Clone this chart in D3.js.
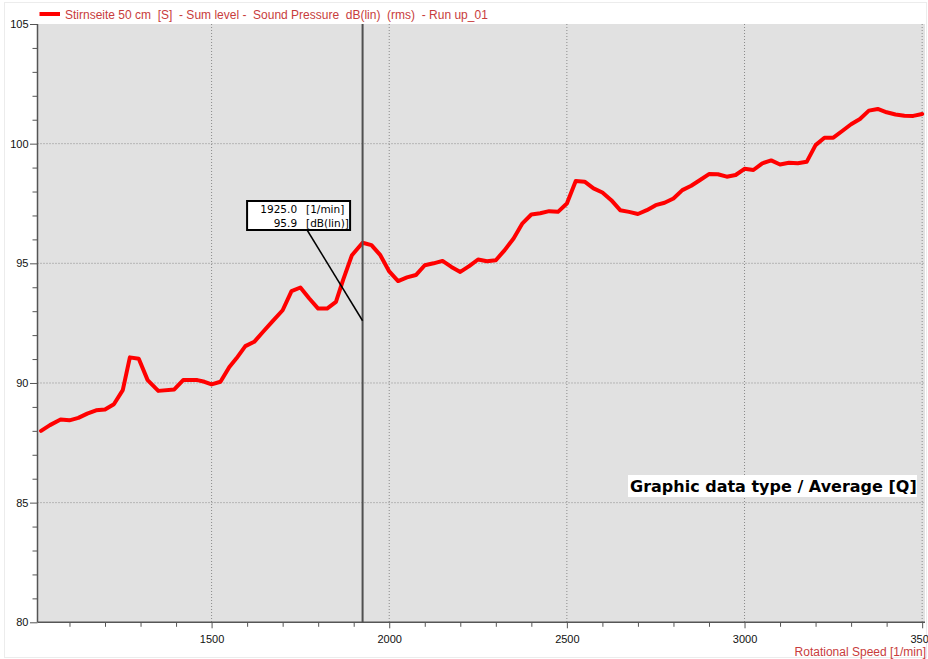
<!DOCTYPE html>
<html>
<head>
<meta http-equiv="Content-Type" content="text/html;charset=utf-8"/>
<style>
  body { margin: 0; background: #fff; }
  text { font-family: "Liberation Sans", Arial, sans-serif; }
</style>
</head>
<body>
<svg id="chart"></svg>
<script src="https://d3js.org/d3.v7.min.js"></script>
<script>
// Rotational speed [1/min] and sound pressure level [dB(lin)]
var rpm = [1020, 1045, 1075, 1100, 1125, 1150, 1175, 1200, 1225, 1250,
  1270, 1295, 1320, 1350, 1395, 1420, 1460, 1480, 1500,
  1525, 1550, 1570, 1595, 1620, 1645, 1670, 1700, 1725, 1750, 1775, 1800, 1825, 1850, 1870, 1895, 1925,
  1950, 1975, 2000, 2025, 2050, 2075, 2100, 2125, 2150, 2175,
  2200, 2225, 2250, 2275, 2300, 2325, 2350, 2375, 2400, 2425,
  2450, 2475, 2500, 2525, 2550, 2575, 2600, 2625, 2650, 2675,
  2700, 2725, 2750, 2775, 2800, 2825, 2850, 2875, 2900, 2925,
  2950, 2975, 3000, 3025, 3050, 3075, 3100, 3125, 3150, 3175,
  3200, 3225, 3250, 3275, 3300, 3325, 3350, 3375, 3400, 3425,
  3450, 3475, 3500];
var level = [88.0, 88.24, 88.47, 88.44, 88.54, 88.72, 88.86, 88.89, 89.11, 89.70,
  91.07, 91.01, 90.12, 89.67, 89.73, 90.12, 90.12, 90.05, 89.94,
  90.05, 90.67, 91.03, 91.54, 91.72, 92.14, 92.55, 93.04, 93.84, 93.99, 93.53, 93.11, 93.11, 93.39, 94.30, 95.34, 95.86,
  95.76, 95.34, 94.66, 94.26, 94.41, 94.51, 94.92, 95.0, 95.10, 94.85,
  94.64, 94.88, 95.16, 95.09, 95.13, 95.55, 96.04, 96.67, 97.04, 97.09,
  97.18, 97.15, 97.50, 98.44, 98.41, 98.13, 97.96, 97.64, 97.22, 97.15,
  97.06, 97.22, 97.43, 97.53, 97.71, 98.06, 98.24, 98.48, 98.73, 98.72,
  98.62, 98.69, 98.95, 98.90, 99.18, 99.30, 99.13, 99.20, 99.18, 99.24,
  99.94, 100.25, 100.25, 100.53, 100.81, 101.03, 101.38, 101.45, 101.31, 101.22,
  101.17, 101.16, 101.24];

var xMajor = [1500, 2000, 2500, 3000, 3500];
var yMajor = [80, 85, 90, 95, 100, 105];
var cursorRpm = 1925;
var cursorLabel = ['1925.0', '95.9'];
var cursorUnits = ['[1/min]', '[dB(lin)]'];
var cursorPointer = 92.6;
var legendText = 'Stirnseite 50 cm  [S]  - Sum level -  Sound Pressure  dB(lin)  (rms)  - Run up_01';
var xTitle = 'Rotational Speed [1/min]';
var infoText = 'Graphic data type / Average [Q]';

var width = 928, height = 659;
var plot = { left: 37.5, top: 24, right: 925, bottom: 622.3 };
var labelRed = '#c83c3c';

var svg = d3.select('#chart').attr('width', width).attr('height', height);

// faint outer frame
svg.append('rect')
  .attr('x', 4.5).attr('y', 2.5)
  .attr('width', width - 6).attr('height', height - 4)
  .attr('fill', 'none').attr('stroke', '#ececec');

var x = d3.scaleLinear().domain([1010, 3508]).range([plot.left, plot.right]);
var y = d3.scaleLinear().domain([80, 105]).range([plot.bottom, plot.top]);

// plot background
svg.append('rect')
  .attr('x', plot.left).attr('y', plot.top)
  .attr('width', plot.right - plot.left).attr('height', plot.bottom - plot.top)
  .attr('fill', '#e1e1e1');

// dotted grid
svg.append('g').selectAll('line').data(xMajor).join('line')
  .attr('x1', function(d) { return x(d); }).attr('x2', function(d) { return x(d); })
  .attr('y1', plot.top).attr('y2', plot.bottom)
  .attr('stroke', '#8a8a8a').attr('stroke-dasharray', '1,2');
svg.append('g').selectAll('line').data(yMajor.filter(function(d) { return d > 80 && d < 105; })).join('line')
  .attr('x1', plot.left).attr('x2', plot.right)
  .attr('y1', function(d) { return y(d); }).attr('y2', function(d) { return y(d); })
  .attr('stroke', '#8a8a8a').attr('stroke-dasharray', '1,2');

// axes
var axisColor = '#555';
var xAxis = svg.append('g').attr('transform', 'translate(0,' + plot.bottom + ')')
  .call(d3.axisBottom(x).tickValues(d3.range(1100, 3501, 100)).tickSize(4.5)
    .tickFormat(function(d) { return xMajor.indexOf(d) >= 0 ? d : ''; }));
xAxis.selectAll('.tick line').filter(function(d) { return xMajor.indexOf(d) >= 0; }).attr('y2', 6);
var yAxis = svg.append('g').attr('transform', 'translate(' + plot.left + ',0)')
  .call(d3.axisLeft(y).tickValues(d3.range(80, 106, 1)).tickSize(5)
    .tickFormat(function(d) { return yMajor.indexOf(d) >= 0 ? d : ''; }));
yAxis.selectAll('.tick line').filter(function(d) { return yMajor.indexOf(d) >= 0; }).attr('x2', -7.5);
[xAxis, yAxis].forEach(function(a) {
  a.select('.domain').attr('stroke', axisColor).attr('stroke-width', 1.5).attr('d', null);
  a.selectAll('.tick line').attr('stroke', axisColor);
  a.selectAll('text').attr('font-family', '"Liberation Sans", Arial, sans-serif')
    .attr('font-size', 11).attr('fill', '#111');
});
xAxis.select('.domain').remove();
yAxis.select('.domain').remove();
svg.append('line').attr('x1', plot.left).attr('x2', plot.right)
  .attr('y1', plot.bottom).attr('y2', plot.bottom).attr('stroke', axisColor).attr('stroke-width', 1.5);
svg.append('line').attr('x1', plot.left).attr('x2', plot.left)
  .attr('y1', plot.top).attr('y2', plot.bottom).attr('stroke', axisColor).attr('stroke-width', 1.5);
xAxis.selectAll('text').attr('y', 13);
yAxis.selectAll('text').attr('x', -9);

// data line
var line = d3.line()
  .x(function(d, i) { return x(rpm[i]); })
  .y(function(d) { return y(d); });
svg.append('path')
  .attr('d', line(level))
  .attr('fill', 'none')
  .attr('stroke', '#ff0000')
  .attr('stroke-width', 4)
  .attr('stroke-linejoin', 'round')
  .attr('stroke-linecap', 'round');

// cursor
svg.append('line')
  .attr('x1', x(cursorRpm)).attr('x2', x(cursorRpm))
  .attr('y1', plot.top).attr('y2', plot.bottom)
  .attr('stroke', '#505050').attr('stroke-width', 2);

var box = { x: x(cursorRpm) - 115.5, y: 201, w: 103, h: 29 };
svg.append('line')
  .attr('x1', box.x + 60).attr('y1', box.y + box.h)
  .attr('x2', x(cursorRpm)).attr('y2', y(cursorPointer))
  .attr('stroke', '#000').attr('stroke-width', 1.5);
svg.append('rect')
  .attr('x', box.x).attr('y', box.y).attr('width', box.w).attr('height', box.h)
  .attr('fill', '#fff').attr('stroke', '#000').attr('stroke-width', 2);
cursorLabel.forEach(function(t, i) {
  svg.append('text')
    .attr('x', box.x + 50).attr('y', box.y + 12 + i * 13.5)
    .attr('text-anchor', 'end')
    .style('font-family', '"DejaVu Sans", sans-serif')
    .attr('font-size', 10.5).attr('fill', '#000')
    .text(t);
  svg.append('text')
    .attr('x', box.x + 59).attr('y', box.y + 12 + i * 13.5)
    .style('font-family', '"DejaVu Sans", sans-serif')
    .attr('font-size', 10.5).attr('fill', '#000')
    .text(cursorUnits[i]);
});

// legend
svg.append('line')
  .attr('x1', 39.5).attr('x2', 60).attr('y1', 14).attr('y2', 14)
  .attr('stroke', '#ff0000').attr('stroke-width', 4);
svg.append('text')
  .attr('x', 65).attr('y', 19)
  .attr('font-size', 12).attr('fill', labelRed)
  .style('white-space', 'pre')
  .text(legendText);

// x axis title
svg.append('text')
  .attr('x', 926).attr('y', 656)
  .attr('text-anchor', 'end')
  .attr('font-size', 12).attr('fill', labelRed)
  .text(xTitle);

// info label
var info = svg.append('g');
info.append('rect')
  .attr('x', 628).attr('y', 475).attr('width', 289).attr('height', 22)
  .attr('fill', '#fff');
info.append('text')
  .attr('x', 630).attr('y', 492)
  .style('font-family', '"DejaVu Sans", sans-serif')
  .attr('font-weight', 'bold')
  .attr('font-size', 16).attr('fill', '#000')
  .text(infoText);
</script>
</body>
</html>
